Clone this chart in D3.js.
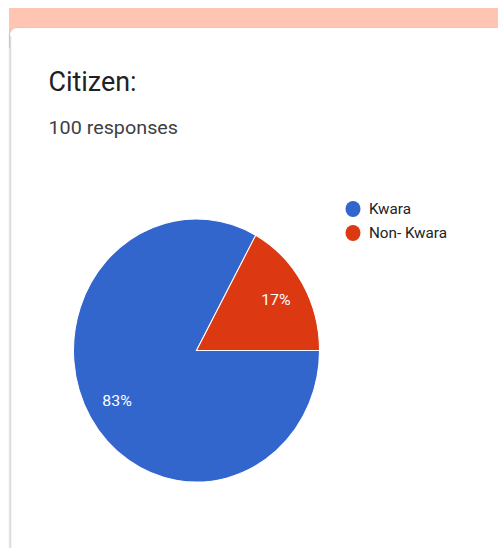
<!DOCTYPE html>
<html><head><meta charset="utf-8">
<script src="https://cdn.jsdelivr.net/npm/d3@7"></script>
<style>html,body{margin:0;padding:0;background:#fff;}svg{display:block;}</style>
</head><body>
<script>
const categories = ["Kwara", "Non- Kwara"];
const values = [83, 17];
const colors = ["#3366cc", "#dc3912"];
const title = "Citizen:";
const subtitle = "100 responses";

const W = 498, H = 548;
const svg = d3.select("body").append("svg").attr("width", W).attr("height", H);
const defs = svg.append("defs");
const f = defs.append("filter").attr("id","sh").attr("x","-10%").attr("y","-10%").attr("width","120%").attr("height","120%");
f.append("feDropShadow").attr("dx",0).attr("dy",1).attr("stdDeviation",1.2).attr("flood-color","#3c4043").attr("flood-opacity",0.35);

// header band
svg.append("rect").attr("x",9).attr("y",8).attr("width",W-9).attr("height",40).attr("fill","#fec5b3");
// card
svg.append("path")
  .attr("d", `M10,${H+10} L10,36 Q10,28 18,28 L${W+10},28 L${W+10},${H+10} Z`)
  .attr("fill","#ffffff").attr("filter","url(#sh)");
svg.append("line").attr("x1",10.5).attr("x2",10.5).attr("y1",36).attr("y2",H).attr("stroke","#dadce0").attr("stroke-width",1.5);

const sy = 1.07;
function txt(x, y, s, size, color, anchor, len, weight) {
  const t = svg.append("text")
    .attr("transform", `translate(${x},${y}) scale(1,${sy})`)
    .attr("font-family", "Roboto, Arial, sans-serif")
    .attr("font-size", size).attr("fill", color)
    .attr("font-weight", weight || 400)
    .attr("text-anchor", anchor || "start").text(s);
  if (len) t.attr("textLength", len).attr("lengthAdjust", "spacingAndGlyphs");
  return t;
}
txt(48.5, 91, title, 26, "#202124", "start", 88);
txt(48.5, 134, subtitle, 16.5, "#3c4043", "start", 129.5);

// pie
const cx = 196.5, cy = 350.5, R = 123;
const pie = d3.pie().sort(null).startAngle(Math.PI/2).endAngle(Math.PI/2 + 2*Math.PI)(values);
const arc = d3.arc().innerRadius(0).outerRadius(R);
const labelArc = d3.arc().innerRadius(R*0.75).outerRadius(R*0.75);
const g = svg.append("g").attr("transform", `translate(${cx},${cy}) scale(1,${sy})`);
g.selectAll("path").data(pie).join("path")
  .attr("d", arc).attr("fill", (d,i) => colors[i])
  .attr("stroke", "#ffffff").attr("stroke-width", 1);
pie.forEach((d,i) => {
  const [lx, ly] = labelArc.centroid(d);
  txt(cx + lx, cy + ly*sy + 5, Math.round(values[i] / d3.sum(values) * 100) + "%", 14.5, "#ffffff", "middle", 29.5);
});

// legend
const legendLens = [42, 78];
const lg = svg.append("g");
categories.forEach((c,i) => {
  const y = 209 + i*24;
  lg.append("ellipse").attr("cx",353).attr("cy",y).attr("rx",7.5).attr("ry",8).attr("fill",colors[i]);
  txt(369, y + 5, c, 14.5, "#222222", "start", legendLens[i]);
});
</script>
</body></html>
